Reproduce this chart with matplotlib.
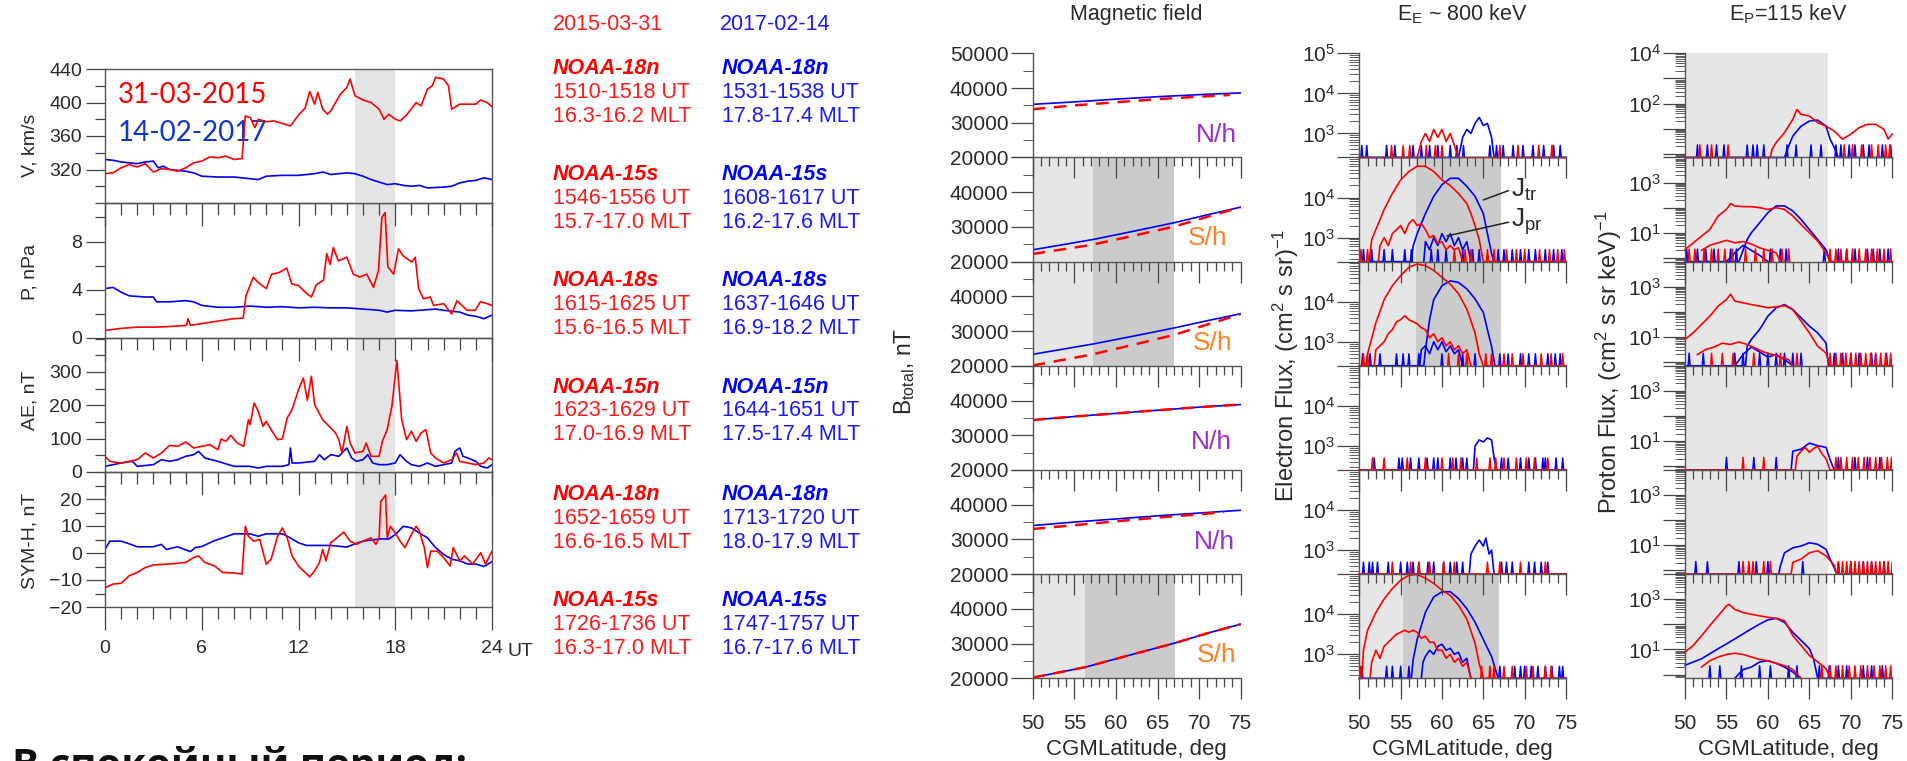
import numpy as np
import matplotlib
matplotlib.use("Agg")
import matplotlib.pyplot as plt
from matplotlib.ticker import MultipleLocator, FixedLocator, FuncFormatter, LogLocator, NullFormatter

plt.rcParams['font.family'] = ['Liberation Sans', 'DejaVu Sans']
plt.rcParams['mathtext.default'] = 'regular'

RED = '#ff0000'
BLUE = '#0000ff'
TXT_RED = '#ff1a1a'
TXT_BLUE = '#1a1aff'
INK = '#2a2a2a'

# ---------------- solar wind / indices, (UT hour, value) ----------------
v_red = [(0, 315), (0.5, 316), (1, 322), (1.5, 326), (2, 323), (2.5, 327), (3, 317), (3.5, 321),
         (4, 320), (4.5, 318), (5, 322), (5.5, 328), (6, 330), (6.5, 335), (7, 334), (7.5, 336),
         (8, 332), (8.5, 333), (8.7, 384), (9, 382), (9.3, 370), (9.5, 380), (10, 377), (10.5, 378),
         (11, 375), (11.5, 372), (12, 385), (12.4, 393), (12.7, 413), (13, 398), (13.2, 412),
         (13.5, 392), (13.8, 386), (14, 390), (14.3, 400), (14.6, 410), (15, 418), (15.2, 428),
         (15.5, 408), (16, 403), (16.5, 400), (17, 392), (17.3, 380), (17.6, 386), (18, 380),
         (18.3, 378), (18.7, 385), (19.3, 400), (19.6, 396), (20, 416), (20.3, 420), (20.5, 430),
         (21, 428), (21.3, 420), (21.5, 392), (22, 398), (22.5, 398), (23, 398), (23.3, 403),
         (23.7, 400), (24, 395)]
v_blue = [(0, 332), (0.5, 331), (1, 329), (1.5, 328), (2, 327), (2.5, 329), (3, 330), (3.3, 322),
          (3.6, 324), (4, 320), (4.5, 319), (5, 318), (5.5, 316), (6, 312), (7, 311), (8, 311),
          (9, 309), (9.5, 308), (10, 312), (11, 313), (12, 313), (13, 315), (13.5, 317), (14, 314),
          (15, 316), (15.5, 315), (16, 312), (16.5, 308), (17, 305), (17.5, 302), (18, 303),
          (18.5, 301), (19, 300), (19.5, 301), (20, 298), (21, 299), (21.5, 300), (22, 304),
          (22.5, 306), (23, 307), (23.5, 310), (24, 308)]
p_red = [(0, 0.63), (1, 0.8), (2, 0.9), (3, 0.9), (4, 0.95), (5.05, 1.05), (5.15, 1.6), (5.3, 1.05),
         (6, 1.2), (7, 1.4), (7.95, 1.6), (8.57, 1.65), (8.74, 3.5), (9.2, 5.05), (9.5, 4.6),
         (10.0, 4.1), (10.33, 5.3), (10.75, 5.4), (11.27, 5.8), (11.58, 4.5), (12.0, 4.35),
         (12.5, 3.7), (12.8, 3.4), (13.1, 4.4), (13.55, 4.8), (13.75, 7.0), (13.96, 6.1),
         (14.16, 7.5), (14.47, 6.4), (15.0, 6.7), (15.4, 5.3), (15.8, 5.05), (16.23, 5.3),
         (16.65, 4.2), (16.96, 5.6), (17.17, 10.0), (17.37, 10.4), (17.54, 5.9), (17.9, 5.3),
         (18.2, 7.4), (18.5, 6.8), (19.03, 6.3), (19.24, 6.7), (19.45, 4.1), (19.75, 3.25),
         (20.17, 3.4), (20.38, 2.7), (21.0, 2.85), (21.5, 2.0), (21.83, 3.1), (22.45, 2.3),
         (22.96, 2.3), (23.28, 3.0), (23.7, 2.85), (24, 2.7)]
p_blue = [(0, 4.1), (0.5, 4.2), (1, 3.8), (1.5, 3.5), (2.5, 3.4), (3, 3.4), (3.2, 3.0), (4, 3.0),
          (5, 3.1), (5.5, 3.0), (6, 2.7), (7, 2.55), (8, 2.55), (9, 2.65), (10, 2.55), (11, 2.6),
          (12, 2.5), (13, 2.55), (14, 2.5), (15, 2.5), (16, 2.4), (17, 2.3), (17.5, 2.15),
          (18, 2.3), (19, 2.25), (20, 2.35), (20.5, 2.4), (21, 2.3), (22, 2.15), (22.5, 1.9),
          (23, 1.8), (23.5, 1.6), (24, 1.9)]
ae_red = [(0, 47), (0.3, 32), (1, 27), (2, 37), (2.5, 57), (3, 42), (3.5, 57), (4, 80), (4.5, 77),
          (5, 90), (5.5, 72), (6, 77), (6.5, 82), (7, 67), (7.2, 99), (7.5, 92), (7.8, 110),
          (8.2, 87), (8.6, 77), (8.9, 157), (9.0, 142), (9.25, 207), (9.5, 182), (9.8, 137),
          (10.0, 152), (10.3, 127), (10.7, 97), (11.0, 99), (11.3, 162), (11.6, 187), (12.0, 247),
          (12.3, 282), (12.55, 215), (12.8, 287), (13.0, 202), (13.5, 157), (14, 132), (14.3, 117),
          (14.5, 97), (14.7, 57), (15, 137), (15.2, 87), (15.5, 57), (16, 62), (16.2, 87),
          (16.5, 47), (17, 47), (17.2, 92), (17.5, 127), (17.8, 200), (18.1, 335), (18.4, 157),
          (18.7, 97), (19, 122), (19.3, 92), (19.6, 117), (19.9, 127), (20.2, 57), (20.5, 42),
          (21, 27), (21.5, 37), (21.8, 57), (22, 32), (22.5, 27), (23, 22), (23.5, 27), (23.8, 42),
          (24, 37)]
ae_blue = [(0, 17), (1, 27), (1.7, 32), (2, 17), (3, 22), (3.5, 37), (4, 32), (4.5, 37), (5, 47),
           (5.5, 52), (5.8, 62), (6.2, 42), (7, 32), (8, 17), (9, 17), (9.5, 12), (10, 17),
           (11, 17), (11.4, 22), (11.5, 72), (11.6, 27), (12, 27), (13, 32), (13.3, 52), (13.6, 37),
           (14, 52), (14.5, 47), (15, 72), (15.3, 42), (15.6, 32), (16, 37), (16.3, 52), (16.6, 27),
           (17, 22), (17.5, 22), (18, 27), (18.3, 52), (18.7, 32), (19, 22), (19.5, 17), (20, 27),
           (20.5, 17), (21, 22), (21.5, 27), (21.7, 62), (22, 72), (22.2, 47), (22.5, 42),
           (23, 32), (23.3, 17), (23.7, 12), (24, 22)]
sym_red = [(0, -12.9), (0.5, -11.5), (1, -11.2), (1.5, -8.4), (2, -7.2), (2.5, -5.4), (3, -4.4),
           (4, -4.1), (5, -3.5), (5.5, -1.7), (5.8, -1.1), (6.2, -3.5), (6.8, -4.8), (7.3, -7.2),
           (8, -7.4), (8.5, -7.8), (8.7, 9.9), (8.9, 6.2), (9.2, 4.4), (9.6, 5.0), (10, -4.1),
           (10.3, -2.3), (10.7, 6.2), (11.0, 9.3), (11.3, 5.6), (11.6, -1.1), (12, -4.8),
           (12.3, -6.6), (12.7, -8.8), (13, -6.6), (13.3, -3.5), (13.5, 1.3), (13.7, -2.9),
           (14, 3.8), (14.5, 6.2), (14.8, 7.8), (15.2, 4.4), (15.6, 3.2), (16, 4.4), (16.5, 5.6),
           (16.8, 3.2), (17.0, 5.6), (17.1, 19), (17.4, 21.5), (17.5, 5.6), (17.7, 9.9), (18, 7.4),
           (18.3, 4.4), (18.6, 2.0), (19, 6.8), (19.3, 9.9), (19.5, 8.0), (19.8, 2.0), (20.0, -5.4),
           (20.2, 0.7), (20.6, 0.7), (21, -1.7), (21.4, -4.8), (21.6, 2.0), (22, -2.9), (22.3, -1.1),
           (22.8, -4.1), (23.3, 0.1), (23.6, -4.1), (24, 0.7)]
sym_blue = [(0, 1.3), (0.3, 4.4), (1, 4.4), (1.5, 3.4), (2, 2.3), (3, 2.3), (3.5, 3.2), (3.8, 1.3),
            (4.5, 2.3), (5.3, 0.5), (5.6, 2.0), (6, 2.4), (6.8, 4.6), (7.3, 5.6), (8, 7.1), (9, 7.1),
            (9.5, 6.2), (10, 7.1), (11, 7.1), (11.5, 5.6), (12, 3.8), (12.5, 2.8), (13, 2.8),
            (14, 2.8), (15, 2.2), (15.5, 3.4), (16, 4.4), (17, 5.2), (17.6, 5.2), (18, 6.8),
            (18.5, 9.9), (19, 9.3), (19.5, 7.4), (20, 5.6), (20.5, 2.0), (21, -0.5), (21.5, -2.3),
            (22, -2.9), (22.5, -4.1), (23, -4.1), (23.5, -5.0), (24, -3.2)]

ut_ticks = [0, 6, 12, 18, 24]
ut_shade = (15.5, 18.0)
date_red = '31-03-2015'
date_blue = '14-02-2017'

# ---------------- pass list ----------------
pass_sats = ['NOAA-18n', 'NOAA-15s', 'NOAA-18s', 'NOAA-15n', 'NOAA-18n', 'NOAA-15s']
red_ut = ['1510-1518 UT', '1546-1556 UT', '1615-1625 UT', '1623-1629 UT', '1652-1659 UT', '1726-1736 UT']
red_mlt = ['16.3-16.2 MLT', '15.7-17.0 MLT', '15.6-16.5 MLT', '17.0-16.9 MLT', '16.6-16.5 MLT', '16.3-17.0 MLT']
blue_ut = ['1531-1538 UT', '1608-1617 UT', '1637-1646 UT', '1644-1651 UT', '1713-1720 UT', '1747-1757 UT']
blue_mlt = ['17.8-17.4 MLT', '16.2-17.6 MLT', '16.9-18.2 MLT', '17.5-17.4 MLT', '18.0-17.9 MLT', '16.7-17.6 MLT']
hemis = ['N/h', 'S/h', 'S/h', 'N/h', 'N/h', 'S/h']

# ---------------- magnetic field, (lat, nT) ----------------
b_blue = [[(50, 35300), (55, 36000), (60, 36800), (65, 37500), (70, 38100), (75, 38600)],
          [(50, 23400), (57.3, 26400), (62, 28700), (67, 31200), (71, 33500), (75, 35700)],
          [(50, 23300), (57.3, 26300), (62, 28500), (67, 30900), (71, 33000), (75, 35000)],
          [(50, 34400), (55, 35400), (60, 36300), (65, 37200), (70, 38100), (75, 38850)],
          [(50, 34000), (55, 35000), (60, 35900), (65, 36800), (70, 37600), (75, 38400)],
          [(50, 20200), (56.3, 23200), (62, 26900), (67, 30100), (71, 33000), (75, 35600)]]
b_red = [[(50, 33900), (55, 35000), (60, 35900), (65, 36800), (70, 37500), (73.7, 38000)],
         [(50, 22200), (57, 24800), (62, 27400), (67, 30100), (71, 32900), (75, 35700)],
         [(50, 20100), (57, 23200), (62, 26000), (67, 28900), (71, 31900), (75, 34900)],
         [(50, 34400), (55, 35400), (60, 36300), (65, 37200), (70, 38100), (75, 38850)],
         [(50, 33000), (55, 34100), (60, 35200), (65, 36300), (70, 37200), (73, 37900)],
         [(50, 20200), (56.3, 23200), (62, 26900), (67, 30100), (71, 33000), (75, 35600)]]
b_shade = [None, (57.3, 67.0), (57.3, 67.0), None, None, (56.3, 67.1)]

# ---------------- electrons ~800 keV, (lat, log10 flux) ----------------
E_LO = 2.4
e_tr_red = [[(50, 2.4), (57, 2.4), (57.5, 2.8), (58, 3.0), (58.5, 2.8), (59, 3.1), (59.5, 2.9), (60, 3.1),
             (60.5, 2.8), (61, 3.0), (61.5, 2.7), (62, 2.4), (75, 2.4)],
            [(50, 2.4), (51.2, 2.4), (51.5, 2.95), (52, 3.2), (53, 3.7), (54, 4.1), (55, 4.44), (56, 4.65),
             (57, 4.78), (58, 4.78), (59, 4.65), (60, 4.44), (61, 4.3), (62, 4.1), (63, 3.85), (63.5, 3.6),
             (64, 3.3), (64.5, 2.95), (65, 2.4), (75, 2.4)],
            [(50, 2.4), (50.8, 2.4), (51, 2.7), (52, 3.47), (53, 4.05), (54, 4.4), (55, 4.65), (56, 4.86),
             (57, 4.94), (58, 4.9), (59, 4.78), (60, 4.61), (61, 4.44), (62, 4.2), (63, 3.82), (64, 3.22),
             (64.5, 2.7), (65, 2.4), (75, 2.4)],
            [(50, 2.4), (75, 2.4)],
            [(50, 2.4), (75, 2.4)],
            [(50, 2.4), (50.3, 2.4), (50.5, 3.1), (51, 3.6), (52, 4.04), (53, 4.38), (54, 4.64), (55, 4.85),
             (56, 4.97), (57, 4.99), (58, 4.9), (59, 4.77), (60, 4.6), (61, 4.47), (62, 4.22), (63, 3.88),
             (64, 3.28), (64.5, 2.77), (65, 2.4), (75, 2.4)]]
e_tr_blue = [[(50, 2.4), (62, 2.4), (62.5, 2.9), (63, 3.1), (63.5, 3.0), (64, 3.25), (64.5, 3.4), (65, 3.2),
              (65.5, 3.25), (66, 2.9), (66.3, 2.4), (75, 2.4)],
             [(50, 2.4), (56.3, 2.4), (56.5, 2.78), (57, 3.1), (58, 3.6), (59, 4.03), (60, 4.32), (61, 4.48),
              (62, 4.48), (63, 4.28), (64, 4.03), (65, 3.6), (65.5, 3.1), (66, 2.6), (66.3, 2.4), (75, 2.4)],
             [(50, 2.4), (57.8, 2.4), (58, 2.8), (58.5, 3.55), (59, 4.05), (60, 4.4), (61, 4.52), (62, 4.48),
              (63, 4.32), (64, 4.07), (65, 3.73), (65.5, 3.3), (66, 2.88), (66.4, 2.4), (75, 2.4)],
             [(50, 2.4), (63.8, 2.4), (64, 3.0), (64.5, 3.15), (65, 3.1), (65.5, 3.2), (66, 3.15),
              (66.3, 2.7), (66.6, 2.4), (75, 2.4)],
             [(50, 2.4), (63.3, 2.4), (63.5, 2.9), (64, 3.1), (64.5, 3.25), (65, 3.1), (65.3, 3.3),
              (65.7, 2.9), (66, 3.0), (66.3, 2.4), (75, 2.4)],
             [(50, 2.4), (56.3, 2.4), (56.5, 2.85), (57, 3.37), (58, 4.05), (59, 4.43), (60, 4.56),
              (61, 4.56), (62, 4.39), (63, 4.14), (64, 3.8), (65, 3.37), (66, 2.94), (66.5, 2.6),
              (66.8, 2.4), (75, 2.4)]]
e_pr_red = [[], [(52.3, 2.4), (52.5, 2.8), (53, 3.0), (53.5, 2.8), (54, 3.1), (54.5, 3.2), (55, 3.3), (55.5, 3.1),
                 (56, 3.35), (56.5, 3.45), (57, 3.3), (57.5, 3.35), (58, 3.2), (58.5, 3.0), (59, 3.05),
                 (59.5, 2.85), (60, 2.9), (60.5, 2.7), (61, 2.8), (61.5, 2.7), (62, 2.75), (62.5, 2.4)],
            [(51.8, 2.4), (52, 2.8), (53, 3.0), (53.5, 3.2), (54, 3.3), (54.5, 3.5), (55, 3.55), (55.5, 3.65),
             (56, 3.55), (56.5, 3.5), (57, 3.45), (57.5, 3.35), (58, 3.3), (58.5, 3.1), (59, 3.2), (59.5, 3.0),
             (60, 3.1), (60.5, 2.9), (61, 3.0), (61.5, 2.8), (62, 2.9), (62.5, 2.7), (63, 2.8), (63.5, 2.4)],
            [], [],
            [(51.3, 2.4), (51.5, 2.8), (52, 3.1), (52.5, 2.9), (53, 3.2), (53.5, 3.3), (54, 3.4), (54.5, 3.5),
             (55, 3.55), (55.5, 3.6), (56, 3.55), (56.5, 3.6), (57, 3.55), (57.5, 3.4), (58, 3.45),
             (58.5, 3.3), (59, 3.3), (59.5, 3.1), (60, 3.1), (60.5, 2.9), (61, 3.0), (61.5, 2.8), (62, 2.9),
             (62.5, 2.7), (63, 2.8), (63.5, 2.4)]]
e_pr_blue = [[], [(57.8, 2.4), (58, 2.9), (58.5, 2.7), (59, 3.0), (59.5, 2.8), (60, 3.1), (60.5, 2.9), (61, 3.1),
                  (61.5, 2.8), (62, 3.0), (62.5, 2.7), (63, 2.9), (63.5, 2.4)],
             [(57.3, 2.4), (57.5, 2.8), (58, 2.9), (58.5, 2.7), (59, 3.0), (59.5, 2.8), (60, 3.0), (60.5, 2.75),
              (61, 2.9), (61.5, 2.7), (62, 2.8), (62.5, 2.4)],
             [], [],
             [(57.5, 2.4), (57.7, 2.8), (58, 2.95), (58.5, 3.1), (59, 3.0), (59.5, 3.2), (60, 3.25), (60.5, 3.1),
              (61, 3.15), (61.5, 3.0), (62, 3.05), (62.5, 2.8), (63, 2.9), (63.5, 2.4)]]
# single-count noise spikes (lat)
e_spk_red = [[53.9, 55.3, 56.1, 58.1, 59.2, 60.0, 67.0, 69.2, 71.7, 73.3],
             [50.2, 51.0, 61.5, 62.8, 63.5, 65.5, 66.3, 67.8, 69, 70, 71.8, 73, 74, 74.8],
             [50.5, 51, 60.8, 62, 63, 65.3, 66, 67.5, 68.5, 69.8, 72, 73.2, 74.6],
             [51.6, 53, 55.8, 58, 60, 61.3, 62.3, 64.2, 65.8, 66.5, 67.5, 69, 70.2, 71.2, 72.8],
             [54, 56.2, 57.2, 58.5, 60.2, 61.5, 65.5, 67, 69.5, 72.5],
             [50.1, 64.8, 65.8, 66.3, 67.5, 68.5, 70.2, 71, 72.5, 73.2]]
e_spk_blue = [[50.3, 50.9, 53.3, 54.3, 56.5, 57.5, 58.5, 59.5, 61.0, 61.8, 62.6, 65.8, 66.6, 67.4, 68.6,
               69.8, 71.0, 72.3, 73.5, 74.3],
              [50.5, 51.5, 53, 54, 55.5, 56.3, 58.7, 59.5, 60.5, 62.5, 63.7, 64.5, 66.8, 67.5, 68.5, 69.5,
               70.5, 71.3, 72.5, 73.5, 74.5],
              [50.4, 51.3, 52.5, 54.5, 55.3, 56, 57.2, 60, 62.5, 64, 67, 68, 69.5, 70.5, 71.3, 72.8, 73.7, 74.3],
              [51.8, 54.8, 55.2, 56.2, 57.2, 58.2, 59, 59.5, 61, 61.7, 62.5, 63, 67.2, 68, 69.5, 70.5, 71.3,
               72.2, 72.5, 73.8, 74.6],
              [50.5, 51.2, 51.6, 52.2, 53.5, 55, 55.8, 56.5, 57.2, 58.3, 59, 60.2, 61, 61.8, 62.5, 67.2, 67.8,
               68.5, 70.5, 71.2, 72, 72.8],
              [50.3, 53.3, 54, 55, 56, 67, 68.8, 69.5, 70, 70.8, 71.6, 72.5, 73.3, 74.2, 74.6]]
e_shade = [None, (56.9, 67.1), (56.9, 67.1), None, None, (55.3, 66.9)]

# ---------------- protons 115 keV, (lat, log10 flux) ----------------
P_LO = -0.15
p_tr_red = [[(50, -0.15), (60.3, -0.15), (60.5, 0.18), (61, 0.45), (62, 0.84), (63, 1.37), (63.5, 1.76),
             (64, 1.57), (65, 1.5), (66, 1.24), (67, 1.1), (68, 0.9), (69, 0.58), (70, 0.78), (71, 1.04),
             (72, 1.17), (73, 1.17), (74, 0.97), (74.5, 0.58), (75, 0.78)],
            [(50, 0.33), (51, 0.6), (52, 0.87), (53, 1.13), (54, 1.67), (55, 1.93), (55.5, 2.16), (56, 2.07),
             (57, 2.04), (58, 2.04), (59, 2.0), (60, 1.93), (61, 2.0), (62, 1.93), (63, 1.67), (64, 1.33),
             (65, 1.0), (66, 0.67), (67, 0.2), (67.5, -0.15), (75, -0.15)],
            [(50, 0.9), (51, 1.17), (52, 1.5), (53, 1.83), (54, 2.23), (55, 2.49), (55.5, 2.7), (56, 2.43),
             (57, 2.36), (58, 2.29), (59, 2.23), (60, 2.16), (61, 2.2), (62, 2.25), (63, 2.09), (64, 1.63),
             (65, 1.16), (66, 0.63), (67, 0.36), (67.5, -0.15), (75, -0.15)],
            [(50, -0.15), (63.3, -0.15), (63.5, 0.4), (64, 0.6), (64.5, 0.75), (65, 0.55), (65.5, 0.7),
             (66, 0.8), (66.5, 0.5), (67, 0.3), (67.5, -0.15), (75, -0.15)],
            [(50, -0.15), (62.8, -0.15), (63, 0.32), (64, 0.45), (65, 0.7), (66, 0.78), (67, 0.58),
             (68, 0.2), (68.3, -0.15), (75, -0.15)],
            [(50, 0.9), (51, 1.16), (52, 1.55), (53, 1.95), (54, 2.34), (55, 2.74), (55.3, 2.8), (56, 2.6),
             (57, 2.47), (58, 2.4), (59, 2.34), (60, 2.28), (61, 2.24), (62, 2.15), (63, 1.55), (64, 1.16),
             (65, 0.76), (66, 0.5), (67, 0.24), (67.5, -0.15), (75, -0.15)]]
p_tr_blue = [[(50, -0.15), (62, -0.15), (62.5, 0.3), (63, 0.7), (64, 1.1), (65, 1.3), (66, 1.34), (67, 1.1),
              (67.5, 0.58), (68, 0.25), (68.5, -0.15), (75, -0.15)],
             [(50, -0.15), (56.5, -0.15), (57, 0.3), (57.5, 0.73), (58, 1.0), (59, 1.4), (60, 1.8), (61, 2.07),
              (62, 2.07), (63, 1.87), (64, 1.53), (65, 1.13), (66, 0.73), (67, 0.33), (67.5, -0.15), (75, -0.15)],
             [(50, -0.15), (57.3, -0.15), (57.5, 0.63), (58, 0.9), (59, 1.3), (60, 1.83), (61, 2.16), (62, 2.29),
              (63, 2.09), (64, 1.76), (65, 1.43), (66, 1.16), (67, 0.76), (67.3, -0.15), (75, -0.15)],
             [(50, -0.15), (62.8, -0.15), (63, 0.6), (64, 0.68), (65, 0.92), (66, 0.82), (67, 0.75),
              (67.5, 0.26), (68, -0.15), (75, -0.15)],
             [(50, -0.15), (61.3, -0.15), (61.5, 0.18), (62, 0.7), (63, 0.9), (64, 0.97), (65, 1.1), (66, 1.04),
              (67, 0.84), (67.5, 0.45), (68, 0.1), (68.3, -0.15), (75, -0.15)],
             [(50, 0.37), (51, 0.5), (52, 0.63), (53, 0.83), (54, 1.03), (55, 1.22), (56, 1.42), (57, 1.62),
              (58, 1.82), (59, 2.01), (60, 2.18), (61, 2.24), (62, 2.08), (63, 1.68), (64, 1.36), (65, 1.03),
              (65.5, 0.63), (66, -0.15), (75, -0.15)]]
p_pr_red = [[], [(52, 0.3), (53, 0.5), (54, 0.6), (55, 0.7), (56, 0.6), (57, 0.65), (58, 0.55), (59, 0.4),
                 (60, 0.3), (61, 0.2), (61.5, -0.15)],
            [(51.5, 0.3), (52.5, 0.5), (53.5, 0.6), (54.5, 0.75), (55.5, 0.7), (56.5, 0.8), (57.5, 0.7),
             (58.5, 0.55), (59.5, 0.4), (60.5, 0.3), (61.5, 0.2), (62.5, 0.1), (63, -0.15)],
            [], [],
            [(52, 0.3), (53, 0.55), (54, 0.7), (55, 0.8), (56, 0.85), (57, 0.8), (58, 0.7), (59, 0.6),
             (60, 0.55), (61, 0.45), (62, 0.35), (63, 0.2), (64, -0.15)]]
p_pr_blue = [[], [(55, -0.15), (56, 0.2), (57, 0.5), (58, 0.3), (59, 0.1), (60, -0.15)],
             [(56, -0.15), (57, 0.3), (58, 0.6), (59, 0.4), (60, 0.2), (61, 0.3), (62, 0.1), (63, -0.15)],
             [], [],
             [(56, -0.15), (57, 0.2), (58, 0.3), (59, 0.5), (60, 0.55), (61, 0.45), (62, 0.3), (63, 0.1),
              (64, -0.15)]]
p_spk_red = [[51.8, 53.2, 55.2, 69.2, 70.2, 71.3, 72.5, 73.3, 74.2, 74.7],
             [50.5, 51.2, 52.3, 53.2, 54, 54.8, 55.7, 57.3, 58.5, 59.5, 60.5, 61.7, 62.5, 67.5, 68.2, 68.8,
              69.5, 70.2, 71, 71.8, 72.5, 73.2, 74, 74.8],
             [53.2, 54.5, 55.8, 58.3, 61.5, 63.5, 67.5, 68.2, 68.8, 69.4, 70, 70.6, 71.2, 71.8, 72.4, 73,
              73.6, 74.2, 74.8],
             [57, 59.5, 68.2, 68.8, 69.5, 70.2, 70.9, 71.6, 72.3, 73, 73.7, 74.4, 74.9],
             [57, 57.7, 58.2, 59.5, 60.3, 68.5, 69, 69.5, 70, 70.5, 71, 71.5, 72, 72.5, 73, 73.5, 74, 74.5, 75],
             [66.5, 67.5, 68.2, 69, 69.8, 70.5, 71.2, 72, 72.8, 73.5, 74.2, 74.8]]
p_spk_blue = [[51.5, 52.7, 53.8, 54.7, 57.5, 58.2, 58.7, 59.5, 62.3, 63.4, 65.2, 66.4, 68.2, 68.8, 69.8, 70.5,
               71.5, 72.2, 73.8, 74.8],
              [50.2, 51.5, 52.5, 53.5, 55.5, 56.2, 60.3, 61.5, 62.2, 66.8, 68.5, 69.5, 70.5, 72, 72.7, 73.5, 74.5],
              [50.5, 52.2, 56, 57, 59, 60, 61, 62, 63, 64, 68, 69, 70, 71, 72.5, 73, 74.3],
              [55, 58.3, 61, 68.5, 70.5, 72, 73.5],
              [51.3, 52.7, 56.5, 58.6, 60, 64.2, 68.5, 70, 71.5, 72.5, 74],
              [53, 54.2, 56.8, 59, 60.3, 62.5, 63.5, 66.2, 67.4, 68.5, 69.5, 71.5, 72.5, 73.8]]
p_shade = (50, 67.2)

# ---------------- layout (pixels of the 1907x761 canvas) ----------------
W, H = 1907, 761
fig = plt.figure(figsize=(W / 100, H / 100), dpi=100)


def px_axes(x0, x1, y0, y1):
    return fig.add_axes([x0 / W, 1 - y1 / H, (x1 - x0) / W, (y1 - y0) / H])


def xy(pairs):
    a = np.array(pairs, dtype=float)
    return a[:, 0], a[:, 1]


# left column: solar wind and indices
left_tops = [69, 203, 338, 472, 607]
left_specs = [
    (v_red, v_blue, (280, 440), [320, 360, 400, 440], 20, 'V, km/s', 145),
    (p_red, p_blue, (0, 11.2), [0, 4, 8], 2, 'P, nPa', 272),
    (ae_red, ae_blue, (0, 402), [0, 100, 200, 300], 50, 'AE, nT', 400),
    (sym_red, sym_blue, (-20, 30), [-20, -10, 0, 10, 20], 5, 'SYM-H, nT', 541),
]
for i, (red, blue, ylim, majors, minor, lab, ylab_y) in enumerate(left_specs):
    ax = px_axes(105, 492, left_tops[i], left_tops[i + 1])
    ax.set_zorder(10 - i)
    ax.patch.set_visible(False)
    ax.axvspan(*ut_shade, color='#e4e4e4', lw=0, zorder=0)
    ax.plot(*xy(blue), color=BLUE, lw=1.2)
    ax.plot(*xy(red), color=RED, lw=1.2)
    ax.set_xlim(0, 24)
    ax.set_ylim(*ylim)
    ax.xaxis.set_major_locator(FixedLocator(ut_ticks))
    ax.xaxis.set_minor_locator(MultipleLocator(1))
    ax.yaxis.set_major_locator(FixedLocator(majors))
    ax.yaxis.set_minor_locator(MultipleLocator(minor))
    for s in ax.spines.values():
        s.set_color('#555555')
        s.set_linewidth(1.0)
    ax.tick_params(axis='y', which='major', direction='out', length=13.5, width=0.9, color='#444444',
                   labelsize=14, labelcolor=INK, pad=3)
    ax.tick_params(axis='y', which='minor', direction='out', length=7, width=0.9, color='#444444')
    ax.tick_params(axis='x', which='major', direction='out', length=16.5, width=0.9, color='#444444',
                   labelsize=14, labelcolor=INK, pad=7)
    ax.tick_params(axis='x', which='minor', direction='out', length=8.5, width=0.9, color='#444444')
    if i < 3:
        ax.tick_params(axis='x', labelbottom=False)
    else:
        ax.annotate('UT', xy=(1, 0), xycoords='axes fraction', xytext=(11, -32),
                    textcoords='offset points', ha='left', va='center', fontsize=14, color=INK)
    fig.text(30 / W, 1 - ylab_y / H, lab, rotation=90, ha='center', va='center', fontsize=14, color=INK)
    if i == 0:
        fig.text(118 / W, 1 - 95 / H, date_red, color=RED, fontsize=20, family=['Lato', 'DejaVu Sans'],
                 va='center')
        fig.text(118 / W, 1 - 133 / H, date_blue, color='#1038c8', fontsize=20,
                 family=['Lato', 'DejaVu Sans'], va='center')

# pass table
fig.text(553 / W, 1 - 25 / H, '2015-03-31', color=TXT_RED, fontsize=15.5, va='center')
fig.text(720 / W, 1 - 25 / H, '2017-02-14', color=TXT_BLUE, fontsize=15.5, va='center')
group_y = [68, 174, 281, 387, 495, 601]
for k in range(6):
    y = group_y[k]
    for x, col, ut, mlt in [(553, TXT_RED, red_ut[k], red_mlt[k]), (722, TXT_BLUE, blue_ut[k], blue_mlt[k])]:
        bold_col = RED if col == TXT_RED else BLUE
        fig.text(x / W, 1 - y / H, pass_sats[k], color=bold_col, fontsize=15.5, fontweight='bold',
                 fontstyle='italic', va='center')
        fig.text(x / W, 1 - (y + 24) / H, ut, color=col, fontsize=15.5, va='center')
        fig.text(x / W, 1 - (y + 48) / H, mlt, color=col, fontsize=15.5, va='center')

# latitude columns
COL_TOP = 53.3
PANEL_H = 104.17


def lat_column(x0, x1, log, ylabsize):
    axs = []
    for i in range(6):
        top = COL_TOP + i * PANEL_H
        ax = px_axes(x0, x1, top, top + PANEL_H)
        ax.set_zorder(10 - i)
        ax.patch.set_visible(False)
        ax.set_xlim(50, 75)
        if log:
            ax.set_yscale('log')
        for side in ['top', 'right']:
            ax.spines[side].set_visible(False)
        for side in ['left', 'bottom']:
            ax.spines[side].set_color('#555555')
            ax.spines[side].set_linewidth(1.0)
        ax.xaxis.set_major_locator(MultipleLocator(5))
        ax.xaxis.set_minor_locator(MultipleLocator(1))
        ax.tick_params(axis='x', which='major', direction='out', length=15, width=0.9, color='#444444',
                       labelsize=15, labelcolor=INK, pad=11)
        ax.tick_params(axis='x', which='minor', direction='out', length=6.5, width=0.9, color='#444444')
        ax.tick_params(axis='y', which='major', direction='out', length=15.5, width=0.9, color='#444444',
                       labelsize=ylabsize, labelcolor=INK, pad=2)
        ax.tick_params(axis='y', which='minor', direction='out', length=7.5, width=0.6, color='#444444')
        if i < 5:
            ax.tick_params(axis='x', labelbottom=False)
        axs.append(ax)
    return axs


def shade_two(ax, span):
    if span is None:
        return
    ax.axvspan(50, span[0], color='#e6e6e6', lw=0, zorder=0)
    ax.axvspan(span[0], span[1], color='#cbcbcb', lw=0, zorder=0)


# magnetic field
b_axes = lat_column(1032.7, 1240.7, False, 15)
hemi_pos = [(0.885, 0.22), (0.843, 0.225), (0.867, 0.22), (0.86, 0.27), (0.876, 0.31), (0.885, 0.22)]
for i, ax in enumerate(b_axes):
    shade_two(ax, b_shade[i])
    ax.plot(*xy(b_blue[i]), color=BLUE, lw=1.2)
    ax.plot(*xy(b_red[i]), color=RED, lw=1.8, dashes=(5, 3.5))
    ax.set_ylim(20000, 50000)
    ax.yaxis.set_major_locator(MultipleLocator(10000))
    ax.yaxis.set_minor_locator(MultipleLocator(5000))
    top_lab = i == 0
    ax.yaxis.set_major_formatter(FuncFormatter(lambda v, p, t=top_lab: '' if (v > 45000 and not t) else '%d' % v))
    hc = '#9b30d0' if hemis[i] == 'N/h' else '#ff8025'
    ax.text(*hemi_pos[i], hemis[i], transform=ax.transAxes, color=hc, fontsize=19, ha='center', va='center')
b_axes[0].set_title('Magnetic field', fontsize=15.5, color=INK, pad=24)
fig.text(905 / W, 1 - 371 / H, 'B$_{total}$, nT', rotation=90, ha='center', va='center', fontsize=16.5, color=INK)


def log_labels(exps):
    return FuncFormatter(lambda v, p: '$10^{%d}$' % round(np.log10(v)) if round(np.log10(v)) in exps else '')


def spikes(ax, lats, lo, hi, color):
    # each single-count reading drawn as a narrow spike rising from the floor
    lat = np.asarray(lats, dtype=float)
    n = len(lat)
    xs = np.column_stack([lat - 0.12, lat, lat + 0.12, np.full(n, np.nan)]).ravel()
    ys = np.column_stack([np.full(n, 10 ** lo), np.full(n, 10 ** hi), np.full(n, 10 ** lo),
                          np.full(n, np.nan)]).ravel()
    ax.plot(xs, ys, color=color, lw=1.1)


def curve(ax, pairs, color, lw=1.2):
    if len(pairs) == 0:
        return
    lat, lg = xy(pairs)
    ax.plot(lat, 10 ** lg, color=color, lw=lw, clip_on=False)


# electrons
e_axes = lat_column(1359.3, 1566, True, 15)
for i, ax in enumerate(e_axes):
    shade_two(ax, e_shade[i])
    ax.set_ylim(10 ** E_LO, 1e5)
    spikes(ax, e_spk_blue[i], E_LO, 2.7, BLUE)
    curve(ax, e_pr_blue[i], BLUE)
    curve(ax, e_tr_blue[i], BLUE)
    spikes(ax, e_spk_red[i], E_LO, 2.7, RED)
    curve(ax, e_pr_red[i], RED)
    curve(ax, e_tr_red[i], RED)
    ax.yaxis.set_major_locator(FixedLocator([1e3, 1e4, 1e5]))
    ax.yaxis.set_minor_locator(LogLocator(base=10, subs=np.arange(2, 10) * 1.0, numticks=20))
    ax.yaxis.set_minor_formatter(NullFormatter())
    ax.yaxis.set_major_formatter(log_labels([3, 4, 5] if i == 0 else [3, 4]))
e_axes[0].set_title('E$_E$ ~ 800 keV', fontsize=15.5, color=INK, pad=24)
fig.text(1286 / W, 1 - 365 / H, 'Electron Flux, (cm$^2$ s sr)$^{-1}$', rotation=90, ha='center',
         va='center', fontsize=17, color=INK)
arrow = dict(arrowstyle='-', color='#222222', lw=1.1, shrinkA=0, shrinkB=0, relpos=(0, 0.5))
e_axes[1].annotate('J$_{tr}$', xy=(65.0, 10 ** 3.94), xytext=(68.4, 10 ** 4.2), fontsize=19, color=INK,
                   ha='left', va='center', arrowprops=arrow)
e_axes[1].annotate('J$_{pr}$', xy=(60.6, 10 ** 3.04), xytext=(68.4, 10 ** 3.4), fontsize=19, color=INK,
                   ha='left', va='center', arrowprops=arrow)

# protons
p_axes = lat_column(1685, 1892.3, True, 15)
for i, ax in enumerate(p_axes):
    ax.axvspan(*p_shade, color='#e6e6e6', lw=0, zorder=0)
    ax.set_ylim(10 ** P_LO, 1e4)
    spikes(ax, p_spk_blue[i], P_LO, 0.35, BLUE)
    curve(ax, p_pr_blue[i], BLUE)
    curve(ax, p_tr_blue[i], BLUE)
    spikes(ax, p_spk_red[i], P_LO, 0.35, RED)
    curve(ax, p_pr_red[i], RED)
    curve(ax, p_tr_red[i], RED)
    ax.yaxis.set_major_locator(FixedLocator([1, 10, 100, 1e3, 1e4]))
    ax.yaxis.set_minor_locator(LogLocator(base=10, subs=np.arange(2, 10) * 1.0, numticks=20))
    ax.yaxis.set_minor_formatter(NullFormatter())
    ax.yaxis.set_major_formatter(log_labels([2, 4] if i == 0 else [1, 3]))
p_axes[0].set_title('E$_P$=115 keV', fontsize=15.5, color=INK, pad=24)
fig.text(1609 / W, 1 - 362 / H, 'Proton Flux, (cm$^2$ s sr keV)$^{-1}$', rotation=90, ha='center',
         va='center', fontsize=17, color=INK)

for x_c in [1136.7, 1462.6, 1788.6]:
    fig.text(x_c / W, 1 - 750 / H, 'CGMLatitude, deg', ha='center', va='center', fontsize=16, color=INK)

fig.text(12 / W, 1 - 777 / H, 'В спокойный период:', fontsize=29, fontweight='bold',
         family=['Open Sans', 'DejaVu Sans'], va='baseline', color='#111111')

fig.savefig('out.png', dpi=100)
